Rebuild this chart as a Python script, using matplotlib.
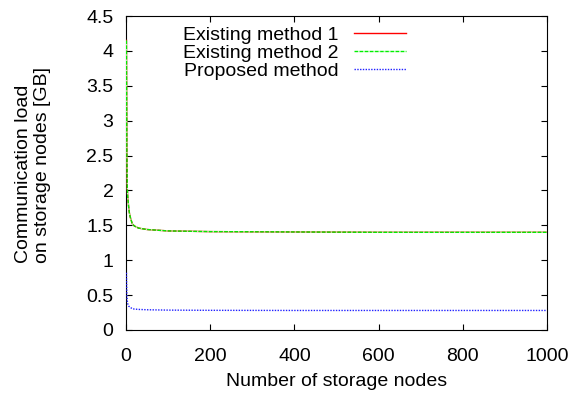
import matplotlib
matplotlib.use("Agg")
import matplotlib.pyplot as plt

plt.rcParams["font.family"] = ["Liberation Sans", "DejaVu Sans"]
plt.rcParams["font.size"] = 14

# Data
nodes = [1, 2, 3, 4, 5, 6, 8, 10, 15, 20, 30, 50, 100, 200, 400, 600, 800, 1000]
existing1 = [4.15, 2.60, 2.05, 1.92, 1.85, 1.78, 1.68, 1.62, 1.52, 1.49, 1.46, 1.44, 1.42, 1.41, 1.405, 1.40, 1.40, 1.40]
existing2 = list(existing1)
proposed = [0.82, 0.52, 0.42, 0.38, 0.36, 0.345, 0.335, 0.325, 0.305, 0.30, 0.295, 0.29, 0.285, 0.282, 0.28, 0.28, 0.28, 0.28]

fig = plt.figure(figsize=(5.82, 3.94), dpi=100)
ax = fig.add_axes([126 / 582, 64 / 394, 421 / 582, 314 / 394])

# gnuplot draws the curves over the border, so lift them above the spines
ax.plot(nodes, existing1, color="#ff0000", lw=1.0, zorder=3, label="Existing method 1")
ax.plot(nodes, existing2, color="#00ee00", lw=1.0, ls=(0, (2.5, 1.2)), zorder=3,
        gapcolor="#b0ffb0", label="Existing method 2")
ax.plot(nodes, proposed, color="#2020ff", lw=1.0, ls=(0, (1, 1)), zorder=3,
        label="Proposed method")

ax.set_xlim(0, 1000)
ax.set_ylim(0, 4.5)
ax.set_xticks([0, 200, 400, 600, 800, 1000])
ax.set_yticks([0, 0.5, 1, 1.5, 2, 2.5, 3, 3.5, 4, 4.5])
ax.set_yticklabels(["0", "0.5", "1", "1.5", "2", "2.5", "3", "3.5", "4", "4.5"])
ax.tick_params(direction="in", top=True, right=True, length=4, width=0.8)
ax.tick_params(axis="x", pad=13)
ax.tick_params(axis="y", pad=9)

ax.set_xlabel("Number of storage nodes")
ax.xaxis.set_label_coords(0.5, -0.163)
ax.xaxis.label.set_va("center")

ax.set_ylabel("Communication load\non storage nodes [GB]", multialignment="left")
ax.yaxis.set_label_coords(-0.221, 0.524)
ax.yaxis.label.set_va("center")

# legend in gnuplot style: label right-aligned, sample on the right
handles, labels = ax.get_legend_handles_labels()
leg = fig.legend(handles, labels, loc="upper right",
                 bbox_to_anchor=(406 / 582, 1 - 26 / 394), frameon=False,
                 markerfirst=False, handlelength=2.7, labelspacing=0.02,
                 handletextpad=0.75, borderpad=0, borderaxespad=0)
for t in leg.get_texts():
    t.set_ha("right")

fig.savefig("out.png", dpi=100)
